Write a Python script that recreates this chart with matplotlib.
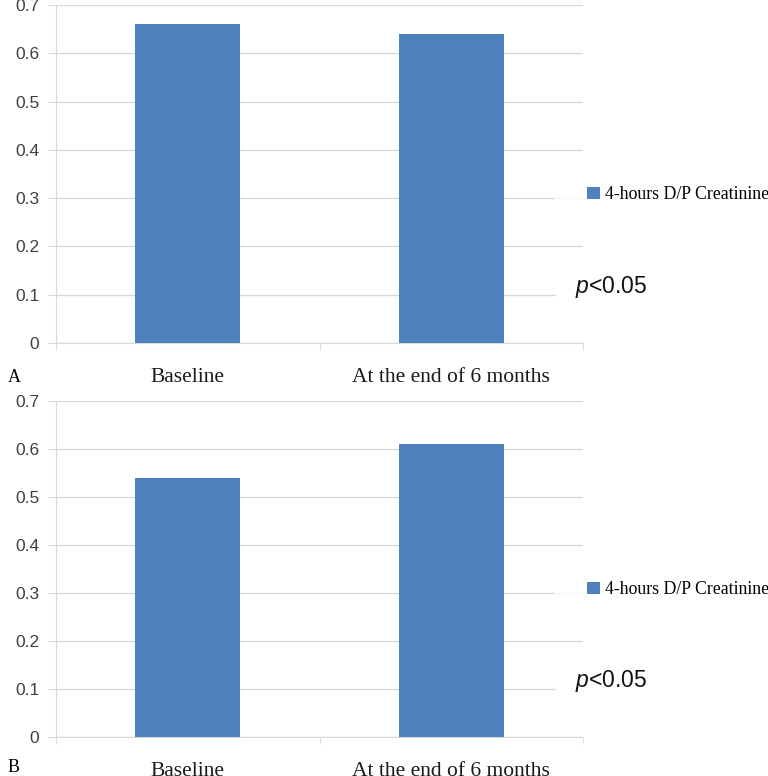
import numpy as np
import matplotlib
matplotlib.use("Agg")
import matplotlib.pyplot as plt

plt.rcParams["mathtext.fontset"] = "custom"
plt.rcParams["mathtext.it"] = "Liberation Sans:italic"
plt.rcParams["mathtext.rm"] = "Liberation Sans"

categories = ["Baseline", "At the end of 6 months"]
panel_a = [0.66, 0.64]
panel_b = [0.54, 0.61]
series_name = "4-hours D/P Creatinine"
yticks = [0, 0.1, 0.2, 0.3, 0.4, 0.5, 0.6, 0.7]
p_label = r"$p$<0.05"

BAR = "#4F81BD"
GRID = "#d9d9d9"
SERIF = "Liberation Serif"
SANS = "Liberation Sans"

W, H = 768, 776
fig = plt.figure(figsize=(W / 100, H / 100), dpi=100)

def px(x0, y0, x1, y1):
    return [x0 / W, 1 - y1 / H, (x1 - x0) / W, (y1 - y0) / H]

def panel(rect, values, letter, letter_y):
    ax = fig.add_axes(rect)
    x = np.arange(len(categories))
    ax.bar(x, values, width=0.40, color=BAR, zorder=3, label=series_name)
    ax.set_xlim(-0.5, len(categories) - 0.5)
    ax.set_ylim(0, 0.7)
    ax.set_yticks(yticks)
    ax.set_yticklabels(["0" if v == 0 else f"{v:.1f}" for v in yticks],
                       fontsize=12.5, family=SANS, color="#404040")
    ax.yaxis.grid(True, color=GRID, lw=1, zorder=0)
    ax.set_axisbelow(True)
    ax.set_xticks(x)
    ax.set_xticklabels(categories, fontsize=15.5, family=SERIF, color="#1a1a1a")
    ax.set_xticks([-0.5, 0.5, 1.5], minor=True)
    ax.tick_params(axis="x", which="major", length=0, pad=18)
    ax.tick_params(axis="x", which="minor", length=5, color=GRID)
    ax.tick_params(axis="y", length=6, color=GRID, pad=6)
    for s in ["top", "right"]:
        ax.spines[s].set_visible(False)
    for s in ["left", "bottom"]:
        ax.spines[s].set_color(GRID)
    leg = ax.legend(loc="center left", bbox_to_anchor=(0.947, 0.438),
                    prop={"family": SERIF, "size": 12.8}, frameon=True,
                    fancybox=False, borderpad=1.8, borderaxespad=0,
                    handlelength=0.7, handleheight=0.7, handletextpad=0.3)
    leg.get_frame().set_facecolor("white")
    leg.get_frame().set_edgecolor("white")
    leg.set_zorder(5)
    ax.text(0.985, 0.116, p_label, transform=ax.get_yaxis_transform(),
            fontsize=16.5, family=SANS, va="center", ha="left", color="#111111",
            bbox=dict(boxstyle="square,pad=0.85", fc="white", ec="none"), zorder=5)
    fig.text(8 / W, 1 - letter_y / H, letter, fontsize=13, family=SERIF,
             va="center", ha="left")
    return ax

panel(px(56, 5, 583, 343), panel_a, "A", 377)
panel(px(56, 401, 583, 737), panel_b, "B", 768)

fig.savefig("out.png", dpi=100)
